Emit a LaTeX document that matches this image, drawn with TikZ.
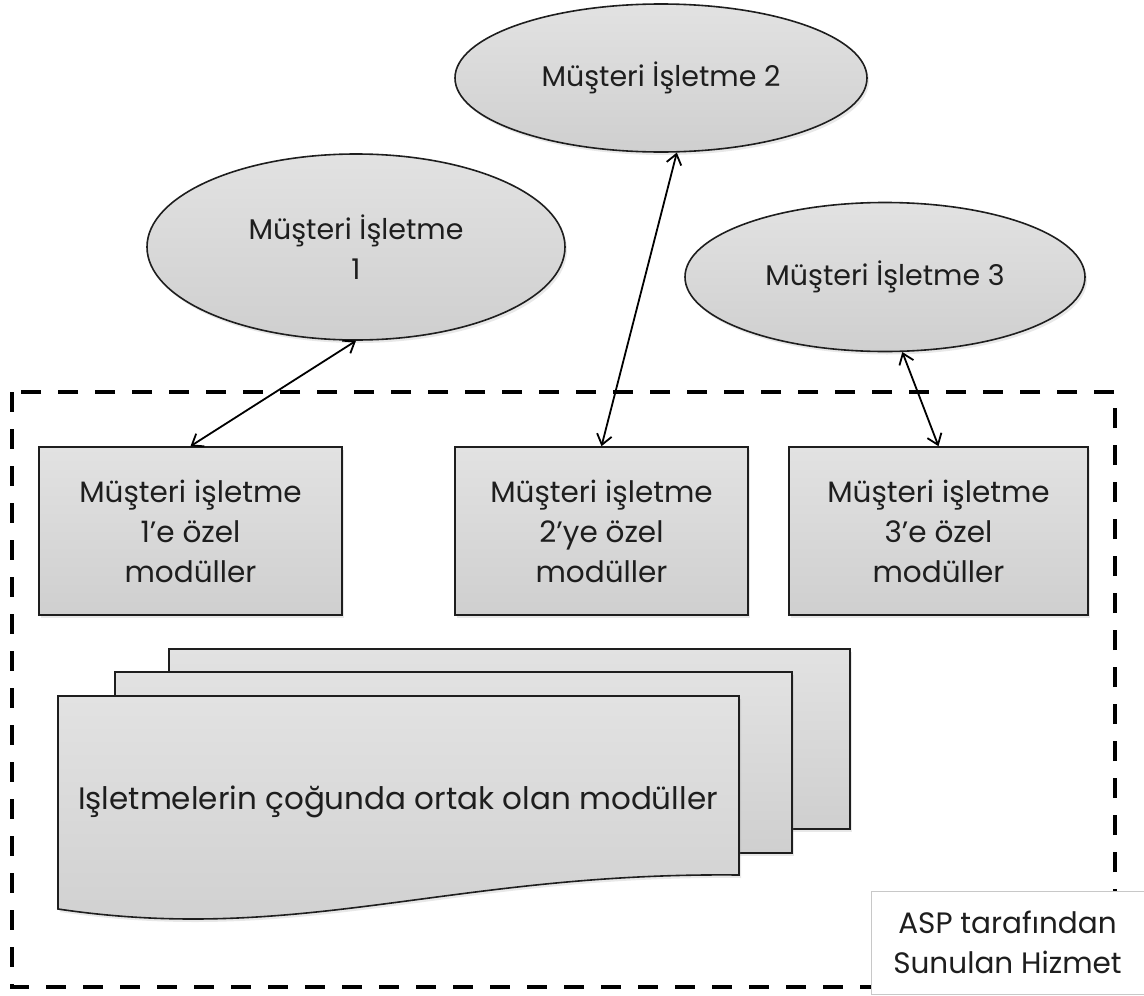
\documentclass[tikz,border=0pt]{standalone}
\usepackage{fontspec}
\setmainfont{Poppins}
\usetikzlibrary{shapes.geometric,arrows.meta,shadows}
\definecolor{topg}{RGB}{226,226,226}
\definecolor{botg}{RGB}{207,207,207}
\definecolor{edge}{RGB}{30,30,30}
\definecolor{txt}{RGB}{30,30,30}
\definecolor{lblgray}{RGB}{200,200,200}
\begin{document}
\begin{tikzpicture}[x=1pt,y=-1pt,
  shapeshade/.style={top color=topg,bottom color=botg,draw=edge,line width=1.6pt,
    drop shadow={opacity=0.18,shadow xshift=2pt,shadow yshift=-3pt}},
  txtfont/.style={font=\fontsize{29.5}{40}\selectfont,text=txt},
  ovalfont/.style={font=\fontsize{28.5}{40}\selectfont,text=txt},
  oval/.style={ellipse,shapeshade,inner sep=0pt,align=center,ovalfont},
  modbox/.style={rectangle,shapeshade,inner sep=0pt,align=center,txtfont},
  link/.style={{Straight Barb[length=10pt,width=15pt]}-{Straight Barb[length=10pt,width=15pt]},line width=1.8pt,draw=black},
  frame/.style={draw=black,line width=4.5pt,dash pattern=on 20pt off 17pt},
  label/.style={draw=lblgray,fill=white,line width=0.8pt,inner sep=0pt,align=center,txtfont}
]
\useasboundingbox (0,0) rectangle (1144,996);
\fill[white] (0,0) rectangle (1144,996);

% dashed frame of the ASP service
\draw[frame] (12,392) rectangle (1115,987);

% client enterprises
\node[oval,minimum width=418pt,minimum height=186pt] (e1) at (356,247) {Müşteri İşletme\\1};
\node[oval,minimum width=412pt,minimum height=148pt] (e2) at (661,78) {Müşteri İşletme 2};
\node[oval,minimum width=400pt,minimum height=149pt] (e3) at (885,277) {Müşteri İşletme 3};

% specific modules
\node[modbox,minimum width=303pt,minimum height=168pt] (b1) at (190.5,531) {Müşteri işletme\\1’e özel\\modüller};
\node[modbox,minimum width=293pt,minimum height=168pt] (b2) at (601.5,531) {Müşteri işletme\\2’ye özel\\modüller};
\node[modbox,minimum width=299pt,minimum height=168pt] (b3) at (938.5,531) {Müşteri işletme\\3’e özel\\modüller};

% connectors
\draw[link] (b1.north) -- (e1.south);
\draw[link] (b2.north) -- (e2.-78);
\draw[link] (e3.-77) -- (b3.north);

% common modules (multi-document)
\path[shapeshade] (169,649) rectangle (850,829);
\path[shapeshade] (115,672) rectangle (792,853);
\path[shapeshade] (58,696) -- (739,696) -- (739,875) .. controls (450,872) and (300,945) .. (58,909) -- cycle;
\node[font=\fontsize{31}{40}\selectfont,text=txt] (common) at (398,802) {Işletmelerin çoğunda ortak olan modüller};

% corner label
\node[label,minimum width=273pt,minimum height=103pt] (asp) at (1007.5,942.5) {ASP tarafından\\Sunulan Hizmet};
\end{tikzpicture}
\end{document}
